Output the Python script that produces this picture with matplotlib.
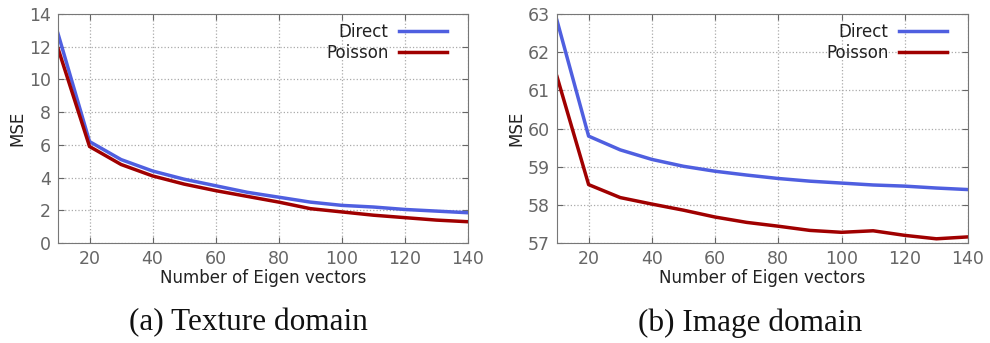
import matplotlib
matplotlib.use('Agg')
import matplotlib.pyplot as plt

# number of eigen vectors
n_vec = [10, 20, 30, 40, 50, 60, 70, 80, 90, 100, 110, 120, 130, 140]

# (a) texture domain
tex_direct = [12.8, 6.2, 5.1, 4.4, 3.9, 3.5, 3.1, 2.8, 2.5, 2.3, 2.2, 2.05, 1.95, 1.85]
tex_poisson = [11.9, 5.9, 4.8, 4.1, 3.6, 3.2, 2.85, 2.5, 2.1, 1.9, 1.7, 1.55, 1.4, 1.3]

# (b) image domain
img_direct = [62.83, 59.8, 59.44, 59.19, 59.01, 58.88, 58.78, 58.69, 58.62, 58.57, 58.52, 58.49, 58.44, 58.40]
img_poisson = [61.36, 58.53, 58.19, 58.02, 57.86, 57.68, 57.54, 57.44, 57.33, 57.28, 57.32, 57.20, 57.11, 57.16]

x_ticks = [20, 40, 60, 80, 100, 120, 140]
captions = ['(a) Texture domain', '(b) Image domain']
caption_x = [248, 750]

grey = '#666666'
blue = '#4f5fe0'
red = '#a00000'

fig = plt.figure(figsize=(9.9, 3.43), dpi=100)
ax1 = fig.add_axes([58/990, 1-243/343, 410/990, 229/343])
ax2 = fig.add_axes([557/990, 1-243/343, 411/990, 229/343])

panels = [
    (ax1, tex_direct, tex_poisson, (0, 14), [0, 2, 4, 6, 8, 10, 12, 14]),
    (ax2, img_direct, img_poisson, (57, 63), [57, 58, 59, 60, 61, 62, 63]),
]

for i, (ax, d, p, ylim, yt) in enumerate(panels):
    ax.plot(n_vec, d, color=blue, lw=2.5, label='Direct')
    ax.plot(n_vec, p, color=red, lw=2.5, label='Poisson')
    ax.set_xlim(10, 140)
    ax.set_ylim(*ylim)
    ax.set_xticks(x_ticks)
    ax.set_yticks(yt)
    ax.grid(True, color='#aaaaaa', linestyle=':', linewidth=0.9)
    ax.tick_params(direction='in', colors=grey, labelsize=12.5, length=4,
                   top=True, right=True, pad=5)
    for s in ax.spines.values():
        s.set_color('#777777')
    ax.set_xlabel('Number of Eigen vectors', fontsize=12, color='#222222', labelpad=1)
    ax.set_ylabel('MSE', fontsize=12, color='#222222', labelpad=2)
    leg = ax.legend(loc='upper right', frameon=False, markerfirst=False,
                    fontsize=12, handlelength=2.9, handletextpad=0.6,
                    labelspacing=0.15, borderpad=0, borderaxespad=0,
                    bbox_to_anchor=(1 - 21/410, 1 - 9/229))
    for t in leg.get_texts():
        t.set_color('#222222')
    fig.text(caption_x[i]/990, 1-323/343, captions[i], ha='center',
             va='center', fontsize=22.5, family='Liberation Serif', color='#111111')

fig.savefig('out.png', dpi=100)
